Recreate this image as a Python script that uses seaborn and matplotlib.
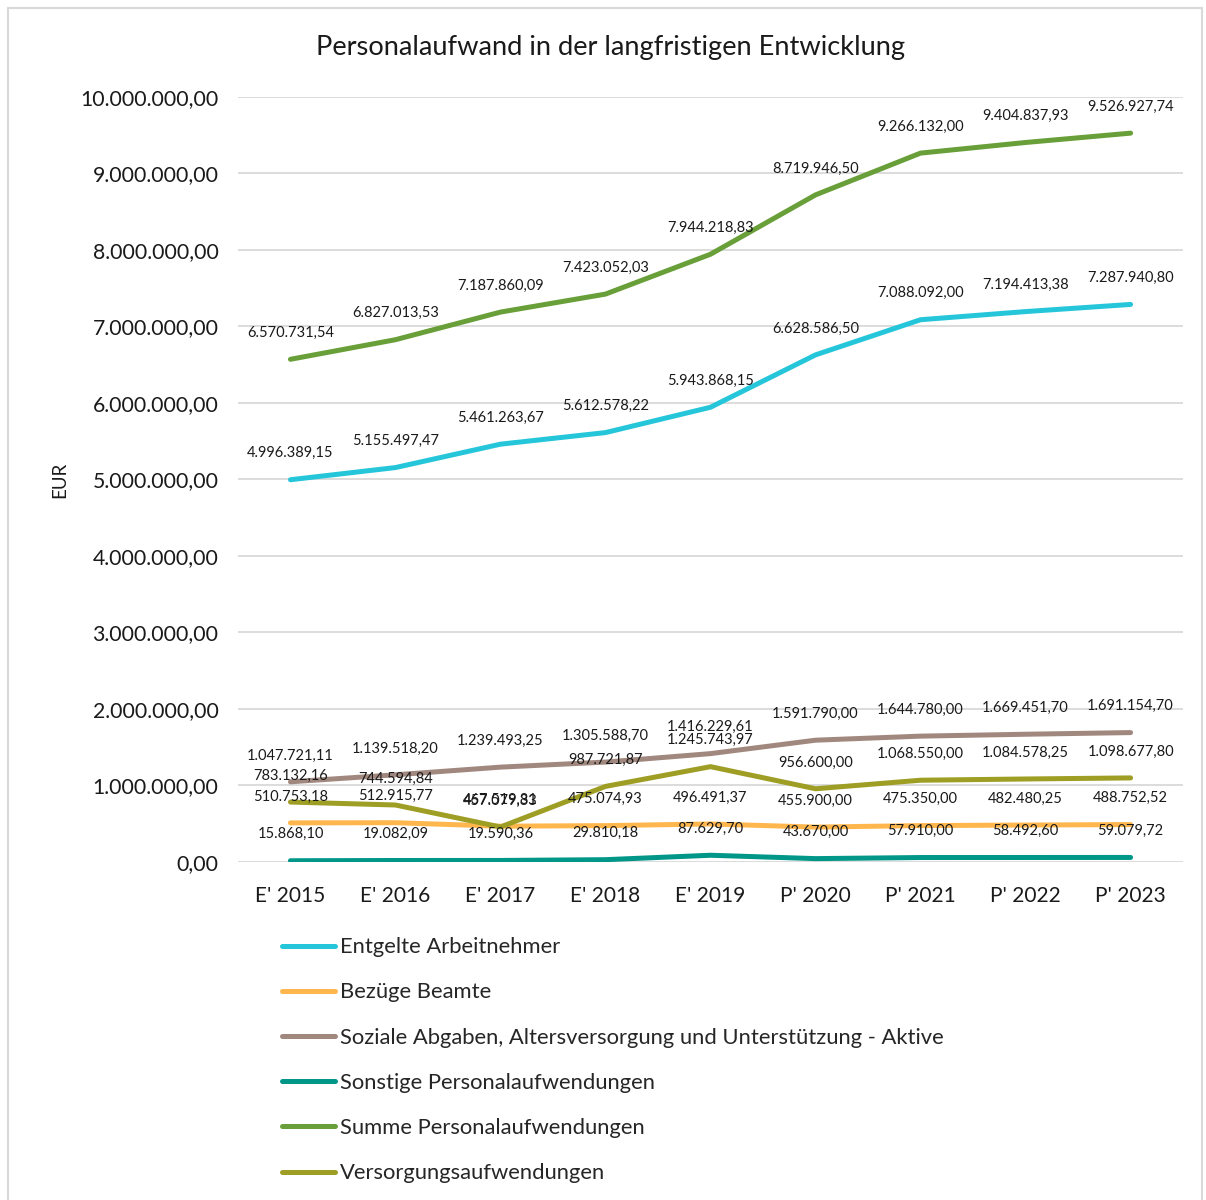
import matplotlib.pyplot as plt
import matplotlib.patches as mpatches
from matplotlib.lines import Line2D
import pandas as pd
import seaborn as sns

# Jahre / Kategorien
jahre = ["E' 2015", "E' 2016", "E' 2017", "E' 2018", "E' 2019",
         "P' 2020", "P' 2021", "P' 2022", "P' 2023"]

entgelte = [4996389.15, 5155497.47, 5461263.67, 5612578.22, 5943868.15,
            6628586.50, 7088092.00, 7194413.38, 7287940.80]
bezuege = [510753.18, 512915.77, 467519.81, 475074.93, 496491.37,
           455900.00, 475350.00, 482480.25, 488752.52]
soziale = [1047721.11, 1139518.20, 1239493.25, 1305588.70, 1416229.61,
           1591790.00, 1644780.00, 1669451.70, 1691154.70]
sonstige = [15868.10, 19082.09, 19590.36, 29810.18, 87629.70,
            43670.00, 57910.00, 58492.60, 59079.72]
summe = [6570731.54, 6827013.53, 7187860.09, 7423052.03, 7944218.83,
         8719946.50, 9266132.00, 9404837.93, 9526927.74]
versorgung = [783132.16, 744594.84, 457079.33, 987721.87, 1245743.97,
              956600.00, 1068550.00, 1084578.25, 1098677.80]

reihen = {
    'Entgelte Arbeitnehmer': entgelte,
    'Bezüge Beamte': bezuege,
    'Soziale Abgaben, Altersversorgung und Unterstützung - Aktive': soziale,
    'Sonstige Personalaufwendungen': sonstige,
    'Summe Personalaufwendungen': summe,
    'Versorgungsaufwendungen': versorgung,
}
farben = ['#26C6DA', '#FFB74D', '#A1887F', '#009688', '#689F38', '#9E9D24']


def de_format(v):
    return f"{v:,.2f}".replace(",", "X").replace(".", ",").replace("X", ".")


rows = []
for name, werte in reihen.items():
    for j, w in zip(jahre, werte):
        rows.append({'Jahr': j, 'Art': name, 'EUR': w})
df = pd.DataFrame(rows)

sns.set_style('white')
plt.rcParams['font.family'] = ['Lato', 'DejaVu Sans']

fig = plt.figure(figsize=(12.06, 12.0), dpi=100)
ax = fig.add_axes([0.1973, 0.2817, 0.7837, 0.6375])

sns.lineplot(data=df, x='Jahr', y='EUR', hue='Art', palette=farben,
             linewidth=3.6, sort=False, legend=False, ax=ax,
             solid_capstyle='round')

# Datenbeschriftungen
for name, werte in reihen.items():
    for i, w in enumerate(werte):
        ax.annotate(de_format(w), (i, w), xytext=(0, 19), textcoords='offset points',
                    ha='center', va='center', fontsize=10.5, color='#1a1a1a')

ax.set_xlim(-0.5, len(jahre) - 0.5)
ax.set_ylim(0, 10000000)
ax.set_yticks(range(0, 10000001, 1000000))
ax.set_yticklabels([de_format(t) for t in range(0, 10000001, 1000000)])
ax.grid(axis='y', color='#d9d9d9', linewidth=1.3)
ax.grid(axis='x', visible=False)
for s in ax.spines.values():
    s.set_visible(False)
ax.tick_params(axis='y', length=0, pad=14, labelsize=15.3, labelcolor='#1a1a1a')
ax.tick_params(axis='x', length=0, pad=17, labelsize=15, labelcolor='#1a1a1a')
ax.set_xlabel('')
ax.set_ylabel('EUR', fontsize=13.5, color='#1a1a1a', labelpad=0)
ax.yaxis.set_label_coords(-0.18, 0.5)

fig.text(0.506, 0.96, 'Personalaufwand in der langfristigen Entwicklung',
         ha='center', va='center', fontsize=19.6, color='#1a1a1a')

handles = [Line2D([0], [0], color=c, linewidth=3.6, solid_capstyle='round') for c in farben]
fig.legend(handles, list(reihen.keys()), loc='upper left',
           bbox_to_anchor=(0.234, 0.219), frameon=False, fontsize=15.8,
           handlelength=2.4, handletextpad=0.25, labelspacing=1.15,
           borderaxespad=0, borderpad=0)

# Rahmen um das Diagramm
fig.patches.append(mpatches.Rectangle((0.007, -0.01), 0.99, 1.003, transform=fig.transFigure,
                                      fill=False, edgecolor='#d9d9d9', linewidth=1.5))

fig.savefig('out.png', dpi=100)
plt.close(fig)
